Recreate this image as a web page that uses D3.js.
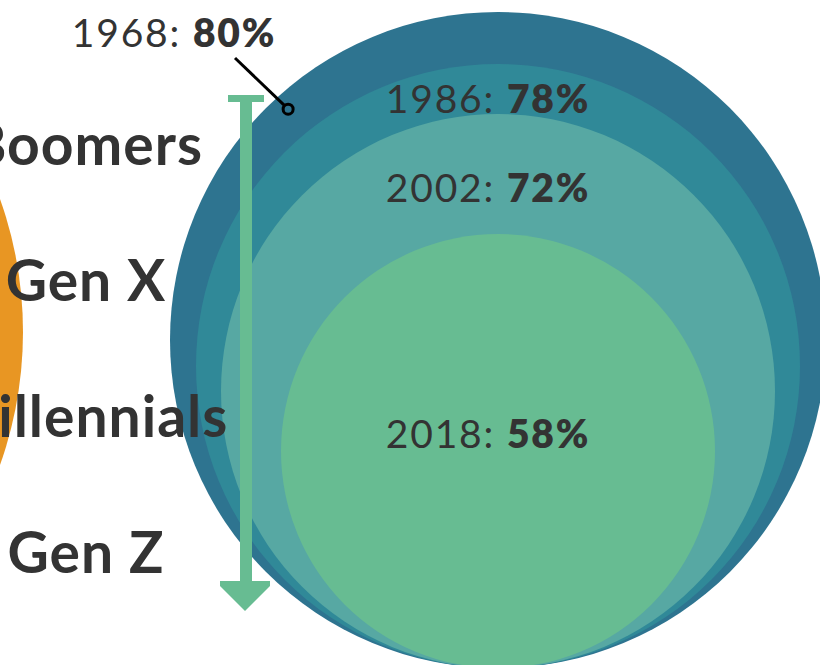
<!DOCTYPE html>
<html>
<head>
<meta charset="utf-8">
<script src="https://cdn.jsdelivr.net/npm/d3@7"></script>
<style>
  html, body { margin: 0; padding: 0; background: #fff; }
  svg { display: block; }
  text { font-family: Lato, "Open Sans", sans-serif; fill: #333; }
</style>
</head>
<body>
<div id="d3-container"></div>
<script>
/* DATA */
const years = ["1968", "1986", "2002", "2018"];
const shares = [80, 78, 72, 58];
const generations = ["Boomers", "Gen X", "Millennials", "Gen Z"];

/* CONSTANTS AND GLOBALS */
const width = 820,
  height = 665,
  baseY = 668,      // circles all sit on this line
  centerX = 498;

const svg = d3.select("#d3-container")
  .append("svg")
  .attr("width", width)
  .attr("height", height);

const data = years.map((y, i) => ({ year: y, share: shares[i] }));

// radius by share
const rScale = d3.scaleLinear()
  .domain([58, 72, 78, 80])
  .range([217, 277, 302, 328]);

const color = d3.scaleOrdinal()
  .domain(years)
  .range(["#2e7490", "#308998", "#57a8a3", "#67bc92"]);

const genY = d3.scalePoint()
  .domain(generations)
  .range([165, 573]);

// orange circle from the panel on the left
svg.append("circle")
  .attr("cx", -373)
  .attr("cy", 332)
  .attr("r", 396)
  .attr("fill", "#e89623");

// nested circles
svg.selectAll("circle.share")
  .data(data)
  .join("circle")
  .attr("class", "share")
  .attr("cx", centerX)
  .attr("cy", d => baseY - rScale(d.share))
  .attr("r", d => rScale(d.share))
  .attr("fill", d => color(d.year));

// generation labels (cut at the left edge, as in the original layout)
svg.selectAll("text.gen")
  .data(generations)
  .join("text")
  .attr("class", "gen")
  .attr("x", 86)
  .attr("y", d => genY(d))
  .attr("text-anchor", "middle")
  .style("font-size", "57px")
  .style("font-weight", 700)
  .style("letter-spacing", "1px")
  .text(d => d);

// arrow down the generations
const arrowX = 246,
  arrowTop = 95,
  headTop = 581,
  tip = 611;
const arrow = svg.append("g").attr("fill", "#67bc92");
arrow.append("rect")
  .attr("x", arrowX - 18).attr("y", arrowTop)
  .attr("width", 36).attr("height", 7);
arrow.append("rect")
  .attr("x", arrowX - 6).attr("y", arrowTop)
  .attr("width", 12).attr("height", headTop - arrowTop + 2);
arrow.append("path")
  .attr("d", d3.line()([
    [arrowX - 26, headTop], [arrowX + 24, headTop], [arrowX + 24, headTop + 5],
    [arrowX - 1, tip], [arrowX - 26, headTop + 5]
  ]));

// labels: outer one sits outside with a pointer
const labelY = { "1986": 113, "2002": 202, "2018": 448 };

function addLabel(d, x, y) {
  const t = svg.append("text")
    .attr("x", x)
    .attr("y", y)
    .attr("text-anchor", "middle")
    .style("font-size", "39px")
    .style("letter-spacing", "1.8px");
  t.append("tspan").style("font-weight", 400).text(d.year + ": ");
  t.append("tspan").style("font-weight", 800).text(d.share + "%");
}

data.forEach(d => {
  if (d.year === "1968") addLabel(d, 174, 47);
  else addLabel(d, 488, labelY[d.year]);
});

// pointer for 1968
const outer = data[0],
  oR = rScale(outer.share),
  oCy = baseY - oR,
  ang = Math.atan2(-231, -210),
  px = centerX + (oR - 16) * Math.cos(ang),
  py = oCy + (oR - 16) * Math.sin(ang);

svg.append("line")
  .attr("x1", 235).attr("y1", 58)
  .attr("x2", px - 4).attr("y2", py - 4)
  .attr("stroke", "#000")
  .attr("stroke-width", 3);
svg.append("circle")
  .attr("cx", px).attr("cy", py)
  .attr("r", 5)
  .attr("fill", "none")
  .attr("stroke", "#000")
  .attr("stroke-width", 3);
</script>
</body>
</html>
